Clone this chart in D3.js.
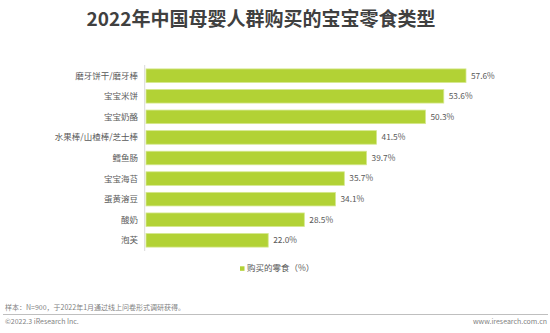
<!DOCTYPE html>
<html><head><meta charset="utf-8">
<script src="https://cdn.jsdelivr.net/npm/d3@7"></script>
<style>body{margin:0;background:#fff}svg{display:block}</style>
</head><body>
<script>
const categories = ["磨牙饼干/磨牙棒","宝宝米饼","宝宝奶酪","水果棒/山楂棒/芝士棒","鳕鱼肠","宝宝海苔","蛋黄溶豆","酸奶","泡芙"];
const values = [57.6,53.6,50.3,41.5,39.7,35.7,34.1,28.5,22.0];
const seriesName = "购买的零食（%）";
const title = "2022年中国母婴人群购买的宝宝零食类型";
const note = "样本：N=900，于2022年1月通过线上问卷形式调研获得。";
const copyright = "©2022.3 iResearch Inc.";
const site = "www.iresearch.com.cn";

const W=550,H=333;
const font = "'Noto Sans CJK SC','Noto Sans',sans-serif";
const svg=d3.select("body").append("svg").attr("width",W).attr("height",H).style("font-family",font);

svg.append("text").attr("x",261).attr("y",26).attr("text-anchor","middle")
  .attr("font-size",19).attr("font-weight","bold").attr("fill","#404040").text(title);

const x=d3.scaleLinear().domain([0,57.6]).range([146,466]);
const y=d3.scaleBand().domain(categories).range([65.4,250.6]).paddingInner(0.34).paddingOuter(0.17);

svg.append("line").attr("x1",144.7).attr("x2",144.7).attr("y1",65).attr("y2",251).attr("stroke","#d9d9d9").attr("stroke-width",1);

svg.selectAll("rect.bar").data(values).join("rect").attr("class","bar")
  .attr("x",x(0)).attr("y",(d,i)=>y(categories[i]))
  .attr("width",d=>x(d)-x(0)).attr("height",y.bandwidth())
  .attr("fill","#b2d235").attr("stroke","#d5e88e").attr("stroke-width",0.8);

svg.selectAll("text.cat").data(categories).join("text").attr("class","cat")
  .attr("x",138).attr("y",d=>y(d)+y.bandwidth()/2).attr("dy","0.35em")
  .attr("text-anchor","end").attr("font-size",8.5).attr("fill","#595959").text(d=>d);

svg.selectAll("text.val").data(values).join("text").attr("class","val")
  .attr("x",d=>x(d)+5).attr("y",(d,i)=>y(categories[i])+y.bandwidth()/2).attr("dy","0.35em")
  .attr("font-size",8.3).attr("fill","#595959").text(d=>d.toFixed(1)+"%");

svg.append("rect").attr("x",240).attr("y",266.3).attr("width",4.5).attr("height",4.5).attr("fill","#b2d235");
svg.append("text").attr("x",247).attr("y",268.5).attr("dy","0.35em").attr("font-size",8.5).attr("fill","#595959").text(seriesName);

svg.append("text").attr("x",5).attr("y",308).attr("dy","0.35em").attr("font-size",7).attr("fill","#7f7f7f").text(note);
svg.append("line").attr("x1",3).attr("x2",548).attr("y1",314.5).attr("y2",314.5).attr("stroke","#bfbfbf").attr("stroke-width",1);
svg.append("text").attr("x",5).attr("y",322).attr("dy","0.35em").attr("font-size",7).attr("fill","#7f7f7f").text(copyright);
svg.append("text").attr("x",547).attr("y",322).attr("dy","0.35em").attr("text-anchor","end").attr("font-size",7).attr("fill","#7f7f7f").text(site);
</script>
</body></html>
